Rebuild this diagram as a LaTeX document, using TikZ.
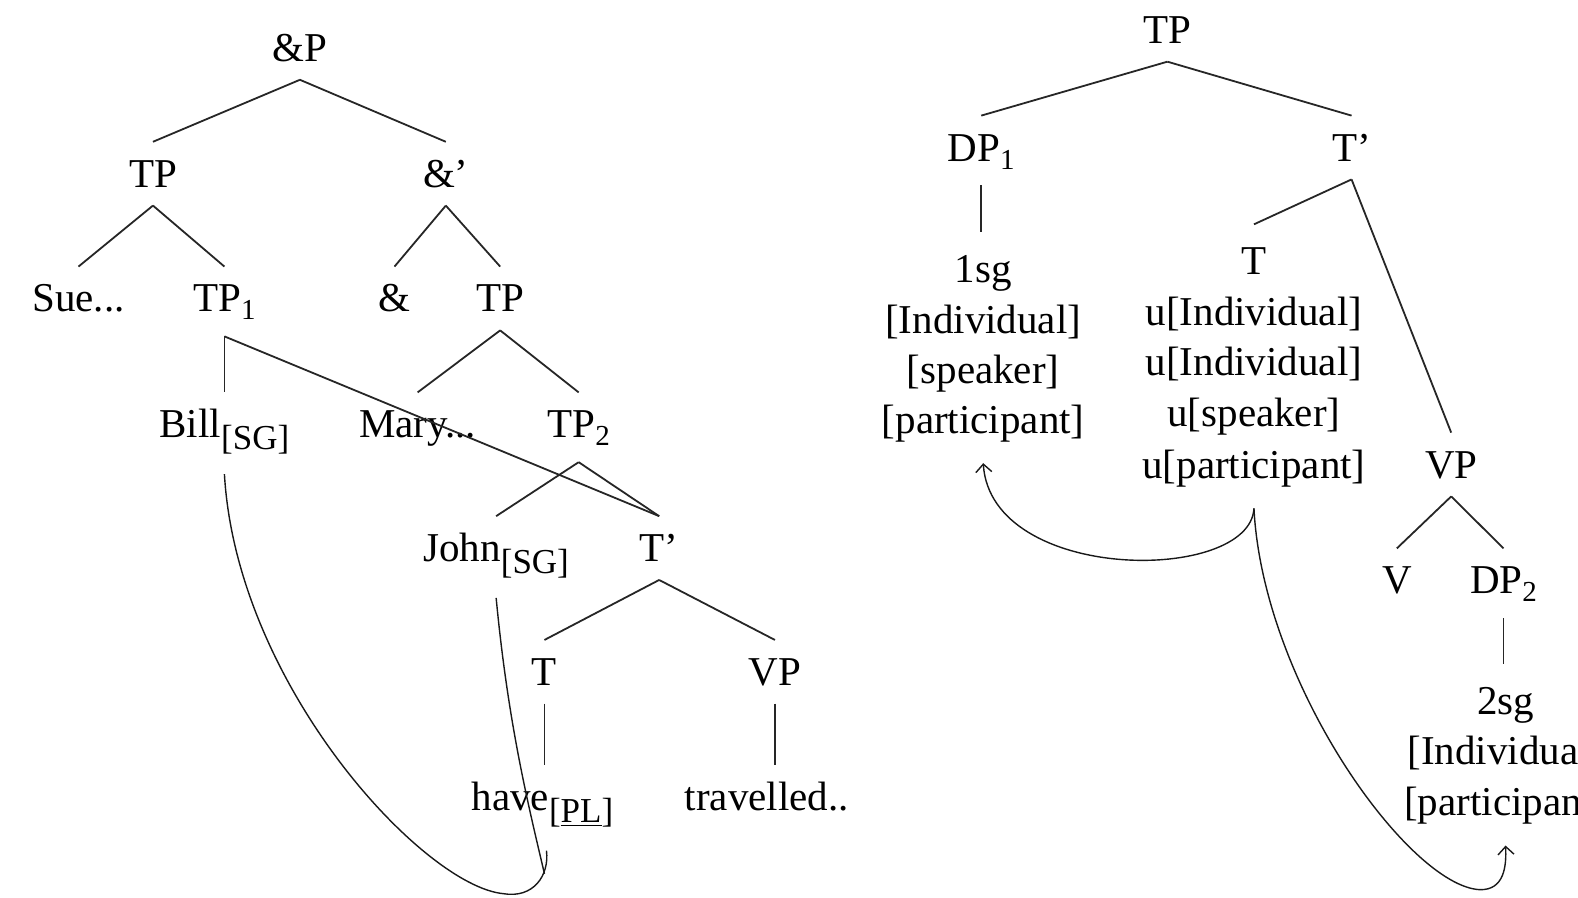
\documentclass[tikz,border=0pt]{standalone}
\usepackage{fontspec}
\setmainfont{Liberation Serif}
\usetikzlibrary{arrows.meta,calc}
\newcommand\dsub[1]{\raisebox{-4pt}{\fontsize{14.5}{14.5}\selectfont #1}}
\newcommand\fsub[1]{\raisebox{-6pt}{\fontsize{17.5}{17.5}\selectfont #1}}
\begin{document}
\begin{tikzpicture}[x=0.5032pt,y=-0.5032pt,
  lab/.style={inner sep=0pt, anchor=base, text height=22.5pt, text depth=9pt, font=\fontsize{20.5}{25}\selectfont},
  labsub/.style={lab, text depth=12pt},
  labtop/.style={lab, text height=25pt},
  branch/.style={draw=black!85, line width=0.9pt},
  agree/.style={draw=black!90, line width=0.7pt},
  agreearrow/.style={agree, -{Straight Barb[length=4pt,width=8pt]}}]
\useasboundingbox (0,0) rectangle (1568,892);
\clip (0,0) rectangle (1568,892);
% ---------------- left tree ----------------
\node[lab] (ampP) at (298,61) {\&P};
\node[lab] (tpL) at (152,186) {TP};
\node[lab] (ampbar) at (443,186) {\&’};
\node[lab] (sue) at (78,310) {Sue...};
\node[labsub] (tp1) at (223,310) {TP\dsub{1}};
\node[lab] (amp) at (392,310) {\&};
\node[lab] (tpR) at (497,310) {TP};
\node[labsub] (bill) at (223,435) {Bill\fsub{[SG]}};
\node[lab] (mary) at (415,435) {Mary...};
\node[labsub] (tp2) at (575,435) {TP\dsub{2}};
\node[labsub] (john) at (493,558) {John\fsub{[SG]}};
\node[lab] (tbar) at (655,558) {T’};
\node[lab] (tL) at (541,681) {T};
\node[lab] (vpL) at (770,681) {VP};
\node[labsub] (have) at (539,805) {have\fsub{[\underline{PL}]}};
\node[lab] (trav) at (762,805) {travelled..};

\draw[branch] (ampP.south) -- (tpL.north);
\draw[branch] (ampP.south) -- (ampbar.north);
\draw[branch] (tpL.south) -- (sue.north);
\draw[branch] (tpL.south) -- (tp1.north);
\draw[branch] (ampbar.south) -- (amp.north);
\draw[branch] (ampbar.south) -- (tpR.north);
\draw[branch] (tp1.south) -- (tp1.south |- bill.north);
\draw[branch] (tp1.south) -- (tbar.north);
\draw[branch] (tpR.south) -- (mary.north);
\draw[branch] (tpR.south) -- (tp2.north);
\draw[branch] (tp2.south) -- (john.north);
\draw[branch] (tp2.south) -- (tbar.north);
\draw[branch] (tbar.south) -- (tL.north);
\draw[branch] (tbar.south) -- (vpL.north);
\draw[branch] (tL.south) -- (tL.south |- have.north);
\draw[branch] (vpL.south) -- (vpL.south |- trav.north);

\coordinate (billend) at ($(have.south)+(4,16)$);
\coordinate (johnend) at ($(have.south)+(2,39)$);
\draw[agree] ([yshift=-6pt]bill.south) .. controls (235,680) and (420,880) .. (500,888)
  .. controls (530,893) and (546,870) .. (billend);
\draw[agree] ([yshift=-6pt]john.south) .. controls (505,720) and (525,800) .. (johnend);

% ---------------- right tree ----------------
\node[lab] (tpTop) at (1160,43) {TP};
\node[labsub] (dp1) at (975,160) {DP\dsub{1}};
\node[lab] (tbarR) at (1343,160) {T’};
\node[labtop] (s1) at (977,281) {1sg};
\node[lab] (s2) at (977,331) {[Individual]};
\node[lab] (s3) at (977,381) {[speaker]};
\node[lab] (s4) at (977,431) {[participant]};
\node[labtop] (tR) at (1246,273) {T};
\node[lab] (u1) at (1246,323) {u[Individual]};
\node[lab] (u2) at (1246,373) {u[Individual]};
\node[lab] (u3) at (1246,424) {u[speaker]};
\node[lab] (u4) at (1246,475) {u[participant]};
\node[lab] (vpR) at (1442,475) {VP};
\node[lab] (v) at (1388,590) {V};
\node[labsub] (dp2) at (1494,590) {DP\dsub{2}};
\node[labtop] (q1) at (1496,710) {2sg};
\node[lab] (q2) at (1496,760) {[Individual]};
\node[lab] (q3) at (1496,810) {[participant]};

\draw[branch] (tpTop.south) -- (dp1.north);
\draw[branch] (tpTop.south) -- (tbarR.north);
\draw[branch] (dp1.south) -- (dp1.south |- s1.north);
\draw[branch] (tbarR.south) -- (tR.north);
\draw[branch] (tbarR.south) -- (vpR.north);
\draw[branch] (vpR.south) -- (v.north);
\draw[branch] (vpR.south) -- (dp2.north);
\draw[branch] (dp2.south) -- (dp2.south |- q1.north);

\draw[agreearrow] ([yshift=-6pt]u4.south) .. controls (1242,580) and (985,580) .. ([yshift=-5.5pt]s4.south);
\draw[agreearrow] ([yshift=-6pt]u4.south) .. controls (1255,680) and (1400,880) .. (1470,884)
  .. controls (1495,885) and (1497,860) .. ([yshift=-6pt]q3.south);
\end{tikzpicture}
\end{document}
